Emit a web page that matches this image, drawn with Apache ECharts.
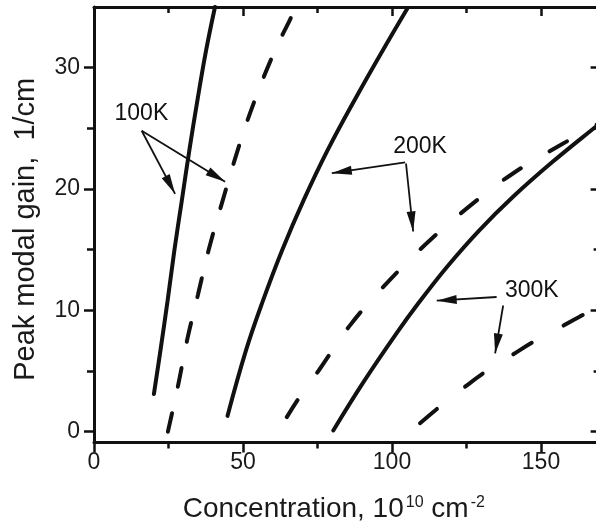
<!DOCTYPE html>
<html>
<head>
<meta charset="utf-8">
<script src="https://cdn.jsdelivr.net/npm/echarts@6/dist/echarts.min.js"></script>
<style>
html,body{margin:0;padding:0;background:#fff;}
#chart{width:596px;height:525px;}
</style>
</head>
<body>
<div id="chart"></div>
<script>
// ---- data ----
const xRange = [0, 170];
const yRange = [-0.9, 35];
const xLabelTicks = [0, 50, 100, 150];
const xMinorTicks = [25, 75, 125];
const yLabelTicks = [0, 10, 20, 30];
const yMinorTicks = [5, 15, 25];

const solid100K = [[20.1,3.1],[22.3,6.7],[24.7,10.8],[27.0,15.0],[29.5,19.1],[32.0,23.2],[34.7,27.3],[37.6,31.4],[40.6,35.0]];
const dashed100K = [[24.8,0],[28.2,3.8],[31.2,7.5],[34.9,11.3],[38.6,15.1],[43.0,18.9],[49.0,23.8],[54.4,27.6],[60.7,31.4],[66.8,34.5],[67.5,35.1]];
const solid200K = [[44.8,1.3],[51.0,6.7],[56.7,10.8],[63.2,15.0],[70.4,19.1],[78.4,23.2],[87.6,27.4],[96.6,31.3],[105.2,34.9]];
const dashed200K = [[64.7,1.2],[69.1,2.9],[75.3,5.0],[85.7,8.7],[97.7,12.1],[111.1,15.4],[125.1,18.4],[140.7,21.3],[156.4,23.6],[170,25.5]];
const solid300K = [[80.3,0.1],[90.2,4.0],[101.5,8.1],[108.9,10.6],[118.5,13.6],[129.3,16.6],[140.8,19.4],[153.7,22.2],[169.2,25.3],[170,25.45]];
const dashed300K = [[109.4,0.7],[116.7,2.2],[124.5,3.7],[132.3,5.1],[140.2,6.3],[147.4,7.4],[155.8,8.5],[163.1,9.5],[170,10.3]];

const labelText = ['100K', '200K', '300K'];
const labelPos = [[15.9, 26.25], [109.4, 23.5], [146.9, 11.66]];
const arrowLines = [
  [[16.0, 24.8], [27.2, 19.6]],
  [[16.0, 24.8], [44.0, 20.6]],
  [[104.4, 22.2], [79.8, 21.3]],
  [[104.7, 22.1], [107.1, 16.5]],
  [[135.1, 11.1], [115.0, 10.8]],
  [[137.3, 10.4], [134.6, 6.45]]
];

// ---- chart ----
const INK = '#111';
const FONT = 'Liberation Sans, Arial, Helvetica, sans-serif';
const chart = echarts.init(document.getElementById('chart'), null, {renderer: 'canvas'});

function xAx(pos, ticks, len, inside, labels, line) {
  return {
    type: 'value', position: pos, min: xRange[0], max: xRange[1],
    axisLine: {show: line, onZero: false, lineStyle: {color: INK, width: 3}},
    axisTick: {show: true, inside: inside, length: len, customValues: ticks, lineStyle: {color: INK, width: 2.5}},
    axisLabel: labels ? {show: true, customValues: ticks, margin: 9, fontSize: 23, color: '#1a1a1a', fontFamily: FONT} : {show: false},
    splitLine: {show: false}
  };
}
function yAx(pos, ticks, len, inside, labels, line) {
  return {
    type: 'value', position: pos, min: yRange[0], max: yRange[1],
    axisLine: {show: line, onZero: false, lineStyle: {color: INK, width: 3}},
    axisTick: {show: true, inside: inside, length: len, customValues: ticks, lineStyle: {color: INK, width: 2.5}},
    axisLabel: labels ? {show: true, customValues: ticks, margin: 14, fontSize: 23, color: '#1a1a1a', fontFamily: FONT} : {show: false},
    splitLine: {show: false}
  };
}

const xAxes = [
  xAx('bottom', xLabelTicks, 10, false, true, true),
  xAx('bottom', xMinorTicks, 6, false, false, false),
  xAx('top', [50, 100, 150], 9, true, false, true),
  xAx('top', xMinorTicks, 6, true, false, false)
];
xAxes[0].name = '{t|Concentration, 10}{s|10}{t| cm}{s|-2}';
xAxes[0].nameLocation = 'middle';
xAxes[0].nameGap = 52;
xAxes[0].nameTextStyle = {
  padding: [0, 27, 0, 0],
  rich: {
    t: {fontSize: 28, color: '#1a1a1a', fontFamily: FONT},
    s: {fontSize: 16, color: '#1a1a1a', fontFamily: FONT, padding: [0, 0, 14, 2]}
  }
};

const yAxes = [
  yAx('left', yLabelTicks, 10, false, true, true),
  yAx('left', yMinorTicks, 7, false, false, false),
  yAx('right', yLabelTicks, 10, true, false, true),
  yAx('right', yMinorTicks, 7, true, false, false)
];
yAxes[0].name = 'Peak modal gain,  1/cm';
yAxes[0].nameLocation = 'middle';
yAxes[0].nameRotate = 90;
yAxes[0].nameGap = 54;
yAxes[0].nameTextStyle = {fontSize: 29, color: '#1a1a1a', fontFamily: FONT, padding: [0, 9, 0, 0]};

function curve(data, dash) {
  return {
    type: 'line', data: data, xAxisIndex: 0, yAxisIndex: 0,
    showSymbol: false, symbol: 'none', smooth: 0.4, silent: true, clip: true,
    lineStyle: {color: INK, width: 4, type: dash || 'solid', cap: 'round'}
  };
}

const option = {
  animation: false,
  backgroundColor: '#fff',
  grid: {left: 94, top: 7, width: 506.6, height: 435.6, containLabel: false, outerBoundsMode: 'none'},
  xAxis: xAxes,
  yAxis: yAxes,
  series: [
    curve(solid100K),
    curve(dashed100K, [19, 27]),
    curve(solid200K),
    curve(dashed200K, [20, 34]),
    curve(solid300K),
    curve(dashed300K, [22, 36]),
    {
      type: 'line', xAxisIndex: 0, yAxisIndex: 0, silent: true, data: [],
      markPoint: {
        silent: true, animation: false, symbol: 'circle', symbolSize: 0,
        itemStyle: {color: 'rgba(0,0,0,0)'},
        label: {show: true, position: 'inside', fontSize: 23, color: '#111', fontFamily: FONT,
                formatter: p => p.name},
        data: labelPos.map((c, i) => ({coord: c, name: labelText[i]}))
      },
      markLine: {
        silent: true, animation: false,
        symbol: ['none', 'triangle'],
        symbolSize: [10, 10],
        lineStyle: {color: INK, width: 1.8, type: 'solid'},
        itemStyle: {color: INK},
        label: {show: false},
        emphasis: {disabled: true},
        data: arrowLines.map(l => [
          {coord: l[0], symbol: 'none'},
          {coord: l[1], symbol: 'triangle', symbolSize: [9, 20], symbolOffset: [0, 10]}
        ])
      }
    }
  ]
};
chart.setOption(option);
</script>
</body>
</html>
